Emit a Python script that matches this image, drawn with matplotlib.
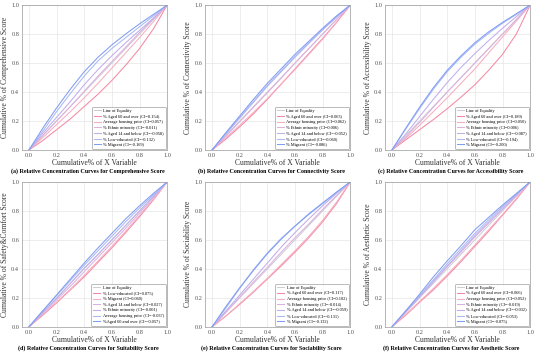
import matplotlib
matplotlib.use('Agg')
import matplotlib.pyplot as plt

plt.rcParams['font.family'] = ['Liberation Serif', 'DejaVu Serif']

# cumulative share of X variable (shared grid)
x_share = [0.0, 0.1, 0.2, 0.3, 0.4, 0.5, 0.6, 0.7, 0.8, 0.9, 1.0]

# (a) Comprehensive
a_labels = ['% Aged 60 and over (CI=0.154)', 'Average housing price (CI=0.057)',
            '% Ethnic minority (CI=-0.011)', '% Aged 14 and below (CI=-0.058)',
            '% Low-educated (CI=-0.132)', '% Migrant (CI=-0.169)']
a_aged60 = [0, 0.065, 0.14, 0.215, 0.30, 0.385, 0.48, 0.585, 0.70, 0.835, 1]
a_house = [0, 0.085, 0.175, 0.265, 0.36, 0.46, 0.565, 0.67, 0.775, 0.885, 1]
a_ethnic = [0, 0.10, 0.20, 0.30, 0.405, 0.51, 0.61, 0.71, 0.81, 0.905, 1]
a_aged14 = [0, 0.115, 0.225, 0.335, 0.45, 0.555, 0.65, 0.74, 0.825, 0.91, 1]
a_lowedu = [0, 0.13, 0.265, 0.39, 0.51, 0.615, 0.70, 0.775, 0.85, 0.925, 1]
a_migrant = [0, 0.15, 0.29, 0.42, 0.54, 0.64, 0.725, 0.80, 0.87, 0.935, 1]

# (b) Connectivity
b_labels = ['% Aged 60 and over (CI=0.063)', 'Average housing price (CI=0.062)',
            '% Ethnic minority (CI=0.006)', '% Aged 14 and below (CI=-0.052)',
            '% Low-educated (CI=-0.060)', '% Migrant (CI=-0.086)']
b_aged60 = [0, 0.075, 0.16, 0.25, 0.35, 0.455, 0.56, 0.665, 0.77, 0.88, 1]
b_house = [0, 0.085, 0.17, 0.26, 0.355, 0.455, 0.555, 0.66, 0.765, 0.88, 1]
b_ethnic = [0, 0.095, 0.195, 0.295, 0.395, 0.495, 0.60, 0.70, 0.80, 0.90, 1]
b_aged14 = [0, 0.11, 0.22, 0.33, 0.44, 0.54, 0.64, 0.735, 0.83, 0.915, 1]
b_lowedu = [0, 0.115, 0.225, 0.335, 0.445, 0.545, 0.645, 0.74, 0.83, 0.92, 1]
b_migrant = [0, 0.12, 0.235, 0.35, 0.46, 0.56, 0.66, 0.75, 0.84, 0.925, 1]

# (c) Accessibility
c_labels = ['% Aged 60 and over (CI=0.189)', 'Average housing price (CI=0.050)',
            '% Ethnic minority (CI=0.006)', '% Aged 14 and below (CI=-0.087)',
            '% Low-educated (CI=-0.194)', '% Migrant (CI=-0.200)']
c_aged60 = [0, 0.07, 0.14, 0.21, 0.285, 0.365, 0.45, 0.55, 0.66, 0.80, 1]
c_house = [0, 0.08, 0.17, 0.265, 0.36, 0.46, 0.56, 0.67, 0.78, 0.89, 1]
c_ethnic = [0, 0.09, 0.19, 0.295, 0.40, 0.50, 0.60, 0.70, 0.80, 0.90, 1]
c_aged14 = [0, 0.11, 0.23, 0.35, 0.465, 0.57, 0.665, 0.755, 0.84, 0.92, 1]
c_lowedu = [0, 0.145, 0.285, 0.42, 0.54, 0.64, 0.73, 0.805, 0.875, 0.935, 1]
c_migrant = [0, 0.15, 0.295, 0.43, 0.55, 0.65, 0.74, 0.815, 0.88, 0.94, 1]

# (d) Suitability (Safety & Comfort)
d_labels = ['% Low-educated (CI=0.075)', '% Migrant (CI=0.060)',
            '% Aged 14 and below (CI=0.027)', '% Ethnic minority (CI=-0.001)',
            'Average housing price (CI=-0.037)', '%Aged 60 and over (CI=-0.057)']
d_lowedu = [0, 0.08, 0.165, 0.255, 0.345, 0.445, 0.545, 0.65, 0.76, 0.875, 1]
d_migrant = [0, 0.085, 0.17, 0.26, 0.355, 0.455, 0.555, 0.66, 0.77, 0.88, 1]
d_aged14 = [0, 0.09, 0.185, 0.28, 0.38, 0.48, 0.58, 0.68, 0.785, 0.89, 1]
d_ethnic = [0, 0.10, 0.195, 0.30, 0.405, 0.50, 0.60, 0.70, 0.80, 0.90, 1]
d_house = [0, 0.11, 0.215, 0.32, 0.425, 0.525, 0.625, 0.725, 0.82, 0.91, 1]
d_aged60 = [0, 0.11, 0.22, 0.33, 0.44, 0.545, 0.645, 0.745, 0.835, 0.92, 1]

# (e) Sociability
e_labels = ['% Aged 60 and over (CI=0.117)', 'Average housing price (CI=0.102)',
            '% Ethnic minority (CI=-0.014)', '% Aged 14 and below (CI=-0.059)',
            '% Low-educated (CI=-0.131)', '% Migrant (CI=-0.132)']
e_aged60 = [0, 0.075, 0.155, 0.24, 0.33, 0.42, 0.515, 0.615, 0.725, 0.85, 1]
e_house = [0, 0.075, 0.16, 0.245, 0.335, 0.43, 0.525, 0.625, 0.735, 0.86, 1]
e_ethnic = [0, 0.10, 0.205, 0.31, 0.41, 0.515, 0.615, 0.71, 0.81, 0.905, 1]
e_aged14 = [0, 0.11, 0.22, 0.33, 0.44, 0.55, 0.65, 0.745, 0.835, 0.92, 1]
e_lowedu = [0, 0.13, 0.265, 0.395, 0.51, 0.61, 0.695, 0.775, 0.85, 0.925, 1]
e_migrant = [0, 0.14, 0.27, 0.39, 0.505, 0.605, 0.695, 0.78, 0.855, 0.93, 1]

# (f) Aesthetic
f_labels = ['% Aged 60 and over (CI=0.066)', 'Average housing price (CI=0.052)',
            '% Ethnic minority (CI=-0.019)', '% Aged 14 and below (CI=-0.032)',
            '% Low-educated (CI=-0.053)', '% Migrant (CI=-0.075)']
f_aged60 = [0, 0.08, 0.17, 0.255, 0.35, 0.45, 0.555, 0.66, 0.77, 0.88, 1]
f_house = [0, 0.085, 0.175, 0.265, 0.36, 0.46, 0.565, 0.67, 0.775, 0.885, 1]
f_ethnic = [0, 0.10, 0.205, 0.31, 0.415, 0.515, 0.62, 0.715, 0.81, 0.905, 1]
f_aged14 = [0, 0.105, 0.21, 0.315, 0.42, 0.525, 0.63, 0.725, 0.82, 0.91, 1]
f_lowedu = [0, 0.11, 0.215, 0.325, 0.435, 0.54, 0.645, 0.74, 0.83, 0.915, 1]
f_migrant = [0, 0.11, 0.225, 0.345, 0.455, 0.56, 0.67, 0.755, 0.84, 0.92, 1]

ylabels = ['Comprehensive', 'Connectivity', 'Accessibility',
           'Safety&Comfort', 'Sociability', 'Aesthetic']
captions = ['(a) Relative Concentration Curves for Comprehensive Score',
            '(b) Relative Concentration Curves for Connectivity Score',
            '(c) Relative Concentration Curves for Accessibility Score',
            '(d) Relative Concentration Curves for Suitability Score',
            '(e) Relative Concentration Curves for Sociability Score',
            '(f) Relative Concentration Curves for Aesthetic Score']

panels = [
    (a_labels, [a_aged60, a_house, a_ethnic, a_aged14, a_lowedu, a_migrant]),
    (b_labels, [b_aged60, b_house, b_ethnic, b_aged14, b_lowedu, b_migrant]),
    (c_labels, [c_aged60, c_house, c_ethnic, c_aged14, c_lowedu, c_migrant]),
    (d_labels, [d_lowedu, d_migrant, d_aged14, d_ethnic, d_house, d_aged60]),
    (e_labels, [e_aged60, e_house, e_ethnic, e_aged14, e_lowedu, e_migrant]),
    (f_labels, [f_aged60, f_house, f_ethnic, f_aged14, f_lowedu, f_migrant]),
]

colors = ['#f38aa5', '#f6aec0', '#ddb0de', '#c0aeec', '#a8b9f5', '#7f9df4']

fig = plt.figure(figsize=(5.5, 3.58), dpi=100)

lefts = [0.04, 0.373, 0.70]
bottoms = [0.581, 0.087]
w, h = 0.264, 0.405

for i, (labels, series) in enumerate(panels):
    ax = fig.add_axes([lefts[i % 3], bottoms[i // 3], w, h])
    ax.plot([0, 1], [0, 1], color='#cbcbd4', lw=0.7, label='Line of Equality')
    for lab, ys, col in zip(labels, series, colors):
        ax.plot(x_share, ys, color=col, lw=0.75, label=lab)
    ax.set_xlim(-0.05, 1.0)
    ax.set_ylim(0, 1.0)
    ax.set_xticks([0, 0.2, 0.4, 0.6, 0.8, 1.0])
    ax.set_yticks([0, 0.2, 0.4, 0.6, 0.8, 1.0])
    ax.grid(True, color='#e6e6e6', lw=0.5)
    ax.set_axisbelow(True)
    for s in ax.spines.values():
        s.set_color('#9a9a9a')
        s.set_linewidth(0.5)
    ax.tick_params(labelsize=4.6, colors='#555555', length=0, pad=2)
    ax.set_xlabel('Cumulative% of X Variable', fontsize=5.5, labelpad=1, color='#333333')
    ax.set_ylabel('Cumulative % of ' + ylabels[i] + ' Score', fontsize=5.5,
                  labelpad=1.5, color='#333333')
    leg = ax.legend(loc='lower right', fontsize=3.2, frameon=True, handlelength=1.6,
                    borderpad=0.4, labelspacing=0.35, handletextpad=0.6,
                    borderaxespad=0.3)
    leg.get_frame().set_edgecolor('#888888')
    leg.get_frame().set_linewidth(0.5)
    pos = ax.get_position()
    fig.text(pos.x0 + pos.width / 2 - 0.012, pos.y0 - 0.05, captions[i], ha='center',
             va='top', fontsize=4.3, fontweight='bold')

fig.savefig('out.png', dpi=100)
